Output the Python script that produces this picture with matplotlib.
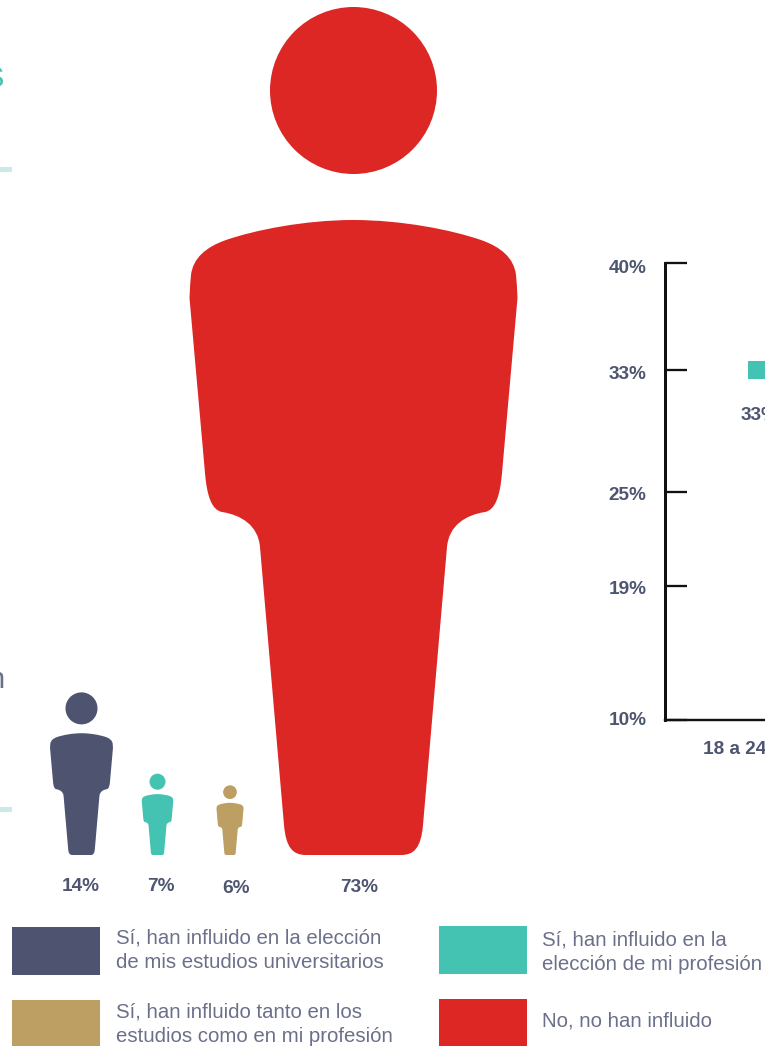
import matplotlib
matplotlib.use("Agg")
import matplotlib.pyplot as plt
from matplotlib.path import Path
from matplotlib.patches import PathPatch, Circle, Rectangle
from matplotlib.transforms import Affine2D, ScaledTranslation

# ---- data ----
person_labels = ["14%", "7%", "6%", "73%"]
person_values = [14, 7, 6, 73]
person_colors = ["#4e5470", "#45c3b2", "#bd9e63", "#dc2724"]
legend_lines = [
    ["Sí, han influido en la elección", "de mis estudios universitarios"],
    ["Sí, han influido tanto en los", "estudios como en mi profesión"],
    ["Sí, han influido en la", "elección de mi profesión"],
    ["No, no han influido"],
]
legend_colors = ["#4e5470", "#bd9e63", "#45c3b2", "#dc2724"]
age_categories = ["18 a 24 años"]
age_values = [33]
age_ticks = [10, 18.8, 25, 33, 40]
age_tick_labels = ["10%", "19%", "25%", "33%", "40%"]

# ---- style / layout ----
TEXT = "#4e5570"
LEGEND_TEXT = "#6a708a"
PALE = "#c7ece7"
px = 0.72
BOLD = dict(family="Liberation Sans", fontweight="bold", color=TEXT)
BOLD_PX = 19.0
LEGEND_PX = 20.4

fig = plt.figure(figsize=(7.65, 10.46), dpi=100, facecolor="white")
ax = fig.add_axes([0, 0, 1, 1])
ax.set_xlim(0, 765)
ax.set_ylim(1046, 0)
ax.axis("off")

# Person glyph, described in the reference frame of one tall figure
H = 848.0
def u(x): return (353.5 - x) / H
def v(y): return (855 - y) / H

half = [
    (Path.MOVETO, (353.5, 220)),
    (Path.CURVE4, (305, 220)), (Path.CURVE4, (255, 230)), (Path.CURVE4, (226, 240)),
    (Path.CURVE4, (206, 247)), (Path.CURVE4, (193, 258)), (Path.CURVE4, (191, 275)),
    (Path.CURVE3, (190, 284)), (Path.CURVE3, (189.5, 298)),
    (Path.LINETO, (205, 473)),
    (Path.CURVE4, (207, 497)), (Path.CURVE4, (212, 510)), (Path.CURVE4, (222, 512)),
    (Path.CURVE4, (241, 515)), (Path.CURVE4, (258, 525)), (Path.CURVE4, (260, 547)),
    (Path.LINETO, (284, 825)),
    (Path.CURVE4, (286, 848)), (Path.CURVE4, (293, 855)), (Path.CURVE4, (306, 855)),
    (Path.LINETO, (353.5, 855)),
]
codes = [c for c, _ in half]
left = [(-u(x), v(y)) for _, (x, y) in half]
right = [(u(x), v(y)) for _, (x, y) in half]
verts = left + right[::-1][1:] + [left[0]]
all_codes = codes + codes[1:][::-1] + [Path.CLOSEPOLY]
body = Path(verts, all_codes)

HEAD_V = (855 - 90.5) / H
HEAD_R = 83.5 / H
PX_PER_UNIT = H / 73.0
BASE_Y = 855

centres = [81.5, 157.5, 230, 353.5]
label_xy = [(81, 891), (161, 891), (235.7, 893), (358.7, 892.5)]
for val, col, lab, cx, (lx, ly) in zip(person_values, person_colors, person_labels, centres, label_xy):
    h = val * PX_PER_UNIT
    tr = Affine2D().scale(h, -h).translate(cx, BASE_Y) + ax.transData
    ax.add_patch(PathPatch(body, facecolor=col, edgecolor="none", transform=tr))
    ax.add_patch(Circle((0, HEAD_V), HEAD_R, facecolor=col, edgecolor="none", transform=tr))
    ax.text(lx, ly, lab, ha="center", va="baseline", fontsize=BOLD_PX * px, **BOLD)

# Legend
swatches = [(12, 927, 88, 48), (12, 1000, 88, 46), (439, 926, 88, 48), (439, 999, 88, 47)]
baselines = [[943.5, 968.5], [1017, 1042.5], [945.5, 970.5], [1026.5]]
text_x = [116, 116, 542, 542]
for lines, col, (sx, sy, sw, sh), bl, tx in zip(legend_lines, legend_colors, swatches, baselines, text_x):
    ax.add_patch(Rectangle((sx, sy), sw, sh, facecolor=col, edgecolor="none"))
    for s, b in zip(lines, bl):
        ax.text(tx, b, s, ha="left", va="baseline", fontsize=LEGEND_PX * px,
                family="Liberation Sans", color=LEGEND_TEXT)

# Fragments of neighbouring panels cut by the crop
ax.text(4, 87, "S", ha="right", va="baseline", fontsize=29 * px,
        family="Liberation Sans", color="#45c3b2")
ax.text(4, 688, "n", ha="right", va="baseline", fontsize=29 * px,
        family="Liberation Sans", color=LEGEND_TEXT)
ax.add_patch(Rectangle((0, 167), 12, 5, facecolor=PALE, edgecolor="none"))
ax.add_patch(Rectangle((0, 807), 12, 5, facecolor=PALE, edgecolor="none"))

# Age chart (cut by right edge)
ax2 = fig.add_axes([664.5 / 765, 1 - 720 / 1046, 100.5 / 765, (720 - 263.3) / 1046])
ax2.patch.set_alpha(0)
ax2.set_xlim(-95, 5.5)
ax2.set_ylim(10, 40)
for s in ("top", "right"):
    ax2.spines[s].set_visible(False)
ax2.spines["left"].set_linewidth(3 * px)
ax2.spines["left"].set_color("#111111")
ax2.spines["bottom"].set_linewidth(2.4 * px)
ax2.spines["bottom"].set_color("#111111")
ax2.set_yticks(age_ticks)
ax2.set_yticklabels(age_tick_labels, fontsize=BOLD_PX * px, **BOLD)
ax2.tick_params(axis="y", direction="in", length=22 * px, width=2.3 * px, color="#111111", pad=18 * px)
label_shift_px = [-1.5, 1, 2, 3, 3.5]
for lab, dy in zip(ax2.get_yticklabels(), label_shift_px):
    lab.set_transform(lab.get_transform() + ScaledTranslation(0, -dy / 100, fig.dpi_scale_trans))
ax2.set_xticks([0])
ax2.set_xticklabels(age_categories, fontsize=BOLD_PX * px, **BOLD)
ax2.tick_params(axis="x", length=0, pad=21 * px)
marker = Path([(-1, -0.71), (1, -0.71), (1, 0.71), (-1, 0.71), (-1, -0.71)], closed=True)
ax2.plot([0], age_values, linestyle="none", marker=marker, markersize=24 * px,
         color="#45c3b2", markeredgewidth=0, clip_on=False)
ax2.annotate(f"{age_values[0]}%", (0, age_values[0]), xytext=(0, -50 * px),
             textcoords="offset points", ha="center", va="baseline",
             fontsize=BOLD_PX * px, **BOLD)

fig.savefig("out.png", dpi=100)
